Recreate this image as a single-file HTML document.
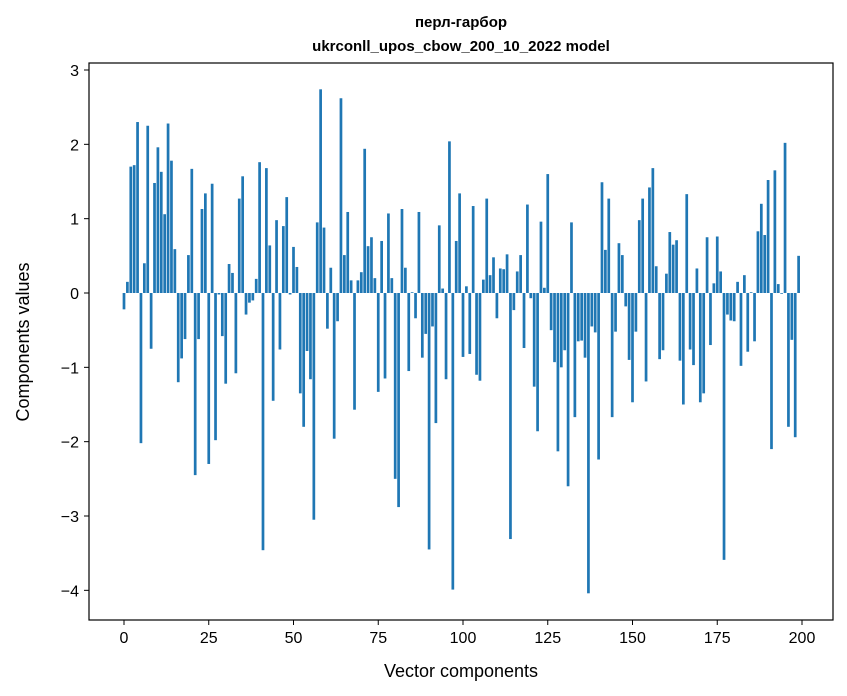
<!DOCTYPE html>
<html><head><meta charset="utf-8"><style>
html,body{margin:0;padding:0;background:#fff;}
svg{display:block;font-family:"Liberation Sans","DejaVu Sans",sans-serif;}
</style></head><body>
<svg id="chart" width="847" height="696" viewBox="0 0 847 696">
<g id="title">
<text x="461" y="27" text-anchor="middle" font-size="15" font-weight="bold">перл-гарбор</text>
<text x="461" y="51" text-anchor="middle" font-size="15" font-weight="bold">ukrconll_upos_cbow_200_10_2022 model</text>
</g>
<g id="bars"></g>
<g id="axes"></g>
<text x="461" y="677" text-anchor="middle" font-size="18">Vector components</text>
<text transform="translate(29,342) rotate(-90)" text-anchor="middle" font-size="18">Components values</text>
<rect x="89" y="63" width="744" height="557" fill="none" stroke="#000" stroke-width="1.2"/>
</svg>
<script>
const values = [-0.22,0.15,1.7,1.72,2.3,-2.02,0.4,2.25,-0.75,1.48,1.96,1.63,1.06,2.28,1.78,0.59,-1.2,-0.88,-0.62,0.51,
1.67,-2.45,-0.62,1.13,1.34,-2.3,1.47,-1.98,-0.02,-0.58,-1.22,0.39,0.27,-1.08,1.27,1.57,-0.29,-0.13,-0.1,0.19,
1.76,-3.46,1.68,0.64,-1.45,0.98,-0.76,0.9,1.29,-0.02,0.62,0.35,-1.35,-1.8,-0.78,-1.16,-3.05,0.95,2.74,0.88,
-0.48,0.34,-1.96,-0.38,2.62,0.51,1.09,0.17,-1.57,0.17,0.28,1.94,0.63,0.75,0.2,-1.33,0.7,-1.15,1.07,0.2,
-2.5,-2.88,1.13,0.34,-1.05,0.01,-0.34,1.09,-0.87,-0.55,-3.45,-0.45,-1.75,0.91,0.06,-1.16,2.04,-3.99,0.7,1.34,
-0.86,0.09,-0.82,1.17,-1.1,-1.18,0.18,1.27,0.24,0.48,-0.34,0.33,0.32,0.52,-3.31,-0.23,0.29,0.51,-0.74,1.19,
-0.07,-1.26,-1.86,0.96,0.07,1.6,-0.5,-0.93,-2.13,-1.0,-0.77,-2.6,0.95,-1.67,-0.65,-0.64,-0.87,-4.04,-0.45,-0.53,
-2.24,1.49,0.58,1.27,-1.67,-0.52,0.67,0.51,-0.18,-0.9,-1.47,-0.52,0.98,1.27,-1.19,1.42,1.68,0.36,-0.89,-0.77,
0.26,0.82,0.65,0.71,-0.91,-1.5,1.33,-0.76,-0.97,0.33,-1.47,-1.35,0.75,-0.7,0.13,0.76,0.29,-3.59,-0.29,-0.37,
-0.38,0.15,-0.98,0.24,-0.79,0.01,-0.65,0.83,1.2,0.78,1.52,-2.1,1.65,0.12,-0.01,2.02,-1.8,-0.63,-1.94,0.5];
const xTicks = [0,25,50,75,100,125,150,175,200];
const yTicks = [-4,-3,-2,-1,0,1,2,3];
const yTickLabels = ["\u22124","\u22123","\u22122","\u22121","0","1","2","3"];
const NS="http://www.w3.org/2000/svg";
function xs(v){return 124+(802-124)*v/200;}
function ys(v){return 293-(293-70)*v/3;}
const bars=document.getElementById('bars');
const bw=(xs(0.8)-xs(0));
values.forEach((v,i)=>{
  const r=document.createElementNS(NS,'rect');
  const y0=ys(0),y1=ys(v);
  r.setAttribute('x',xs(i)-bw/2);
  r.setAttribute('y',Math.min(y0,y1));
  r.setAttribute('width',bw);
  r.setAttribute('height',Math.max(Math.abs(y1-y0),0.3));
  r.setAttribute('fill','#1f77b4');
  
  
  bars.appendChild(r);
});
const axes=document.getElementById('axes');
xTicks.forEach(t=>{
  const g=document.createElementNS(NS,'g');
  
  
  g.innerHTML=`<line x1="${xs(t)}" x2="${xs(t)}" y1="620" y2="625" stroke="#000"/><text x="${xs(t)}" y="643" text-anchor="middle" font-size="16">${t}</text>`;
  axes.appendChild(g);
});
yTicks.forEach((t,i)=>{
  const g=document.createElementNS(NS,'g');
  
  
  g.innerHTML=`<line x1="84" x2="89" y1="${ys(t)}" y2="${ys(t)}" stroke="#000"/><text x="79" y="${ys(t)+6}" text-anchor="end" font-size="16">${yTickLabels[i]}</text>`;
  axes.appendChild(g);
});
</script>
</body></html>
